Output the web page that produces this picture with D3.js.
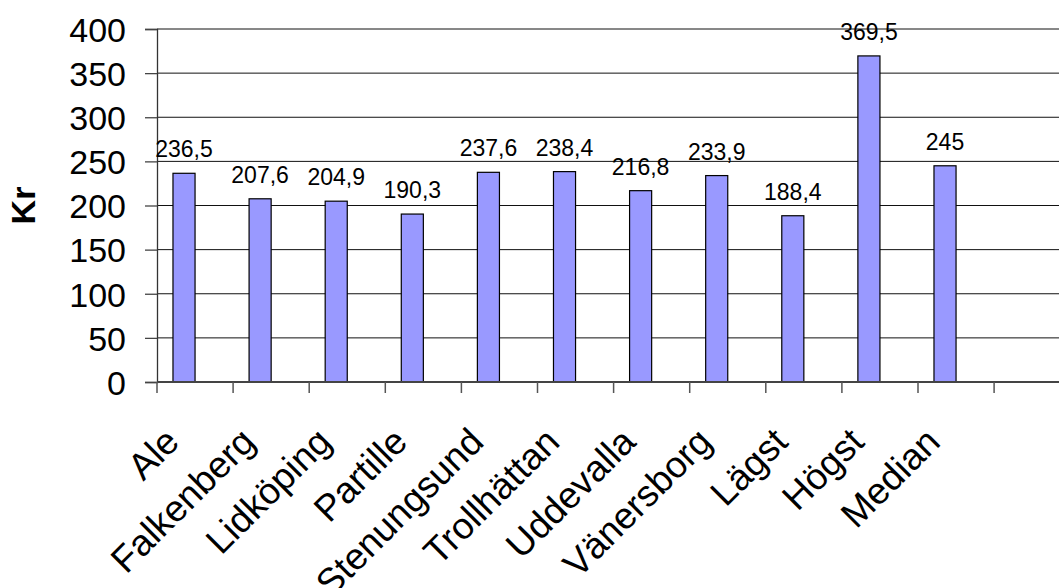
<!DOCTYPE html>
<html><head><meta charset="utf-8">
<script src="https://cdn.jsdelivr.net/npm/d3@7"></script>
<style>html,body{margin:0;padding:0;background:#fff;overflow:hidden}</style>
</head><body>
<svg id="c" width="1059" height="588"></svg>
<script>
const categories = ["Ale","Falkenberg","Lidköping","Partille","Stenungsund","Trollhättan","Uddevalla","Vänersborg","Lägst","Högst","Median"];
const values = [236.5,207.6,204.9,190.3,237.6,238.4,216.8,233.9,188.4,369.5,245];
const valueLabels = ["236,5","207,6","204,9","190,3","237,6","238,4","216,8","233,9","188,4","369,5","245"];
const yTicks = [0,50,100,150,200,250,300,350,400];
const yTitle = "Kr";

const svg = d3.select("#c");
const font = "'Liberation Sans', Arial, sans-serif";
const plotLeft = 157, plotTop = 29, plotBottom = 382, bandW = 76.1;
const slots = [...categories, ""];
const x = d3.scaleBand().domain(slots).range([plotLeft, plotLeft + slots.length * bandW]).paddingInner(0).paddingOuter(0);
const y = d3.scaleLinear().domain([0, 400]).range([plotBottom, plotTop]);

// gridlines
svg.append("g").selectAll("line").data(yTicks.filter(t => t > 0)).join("line")
  .attr("x1", plotLeft).attr("x2", 1059)
  .attr("y1", d => y(d)).attr("y2", d => y(d))
  .attr("stroke", "#111").attr("stroke-width", 1);

// y axis
const yAxis = svg.append("g").attr("transform", `translate(${plotLeft},0)`)
  .call(d3.axisLeft(y).tickValues(yTicks).tickSize(12).tickPadding(19).tickFormat(d3.format("d")));
yAxis.select(".domain").attr("stroke", "#333").attr("stroke-width", 1.3);
yAxis.selectAll(".tick line").attr("stroke", "#444").attr("stroke-width", 1.3);
yAxis.selectAll("text").attr("font-family", font).attr("font-size", 34).attr("fill", "#000").attr("dy", "0.36em");

// bars
svg.append("g").selectAll("rect").data(values).join("rect")
  .attr("x", (d, i) => x(categories[i]) + bandW * 0.21)
  .attr("width", bandW * 0.29)
  .attr("y", d => y(d))
  .attr("height", d => y(0) - y(d))
  .attr("fill", "#9999FF").attr("stroke", "#000").attr("stroke-width", 1.2);

// value labels
svg.append("g").selectAll("text").data(values).join("text")
  .attr("x", (d, i) => x(categories[i]) + bandW * 0.355)
  .attr("y", d => y(d) - 16)
  .attr("text-anchor", "middle")
  .attr("font-family", font).attr("font-size", 23).attr("fill", "#000")
  .text((d, i) => valueLabels[i]);

// x axis
const xAxis = svg.append("g").attr("transform", `translate(0,${plotBottom})`);
xAxis.append("line").attr("x1", plotLeft).attr("x2", 1059).attr("y1", 0).attr("y2", 0)
  .attr("stroke", "#444").attr("stroke-width", 2);
xAxis.selectAll("line.tk").data(slots).join("line").attr("class", "tk")
  .attr("x1", d => x(d)).attr("x2", d => x(d)).attr("y1", 0).attr("y2", 11)
  .attr("stroke", "#555").attr("stroke-width", 1.5);
xAxis.selectAll("text").data(categories).join("text")
  .attr("transform", d => `translate(${x(d) + x.bandwidth() / 2 - 14},${62}) rotate(-45)`)
  .attr("text-anchor", "end")
  .attr("font-family", font).attr("font-size", 37).attr("fill", "#000")
  .text(d => d);

// y title
svg.append("text")
  .attr("transform", `translate(35,${(plotTop + plotBottom) / 2}) rotate(-90)`)
  .attr("text-anchor", "middle")
  .attr("font-family", font).attr("font-size", 34).attr("font-weight", "bold").attr("fill", "#000")
  .text(yTitle);
</script>
</body></html>
